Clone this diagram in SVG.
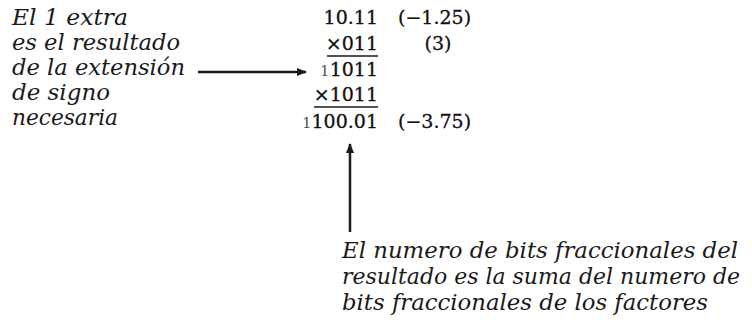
<svg xmlns="http://www.w3.org/2000/svg" width="752" height="331" viewBox="0 0 752 331">
<style>
.note{font-family:"DejaVu Serif Condensed","DejaVu Serif",serif;font-style:italic;font-size:23px;fill:#1a1a1a}
.math{font-family:"DejaVu Serif",serif;font-size:19px;fill:#111;stroke:#111;stroke-width:0.3}
.small1{font-size:15px;fill:#555;stroke:none}
.rule{stroke:#1a1a1a;stroke-width:1.5}
.conn{stroke:#1a1a1a;stroke-width:2.5;fill:none}
</style>
<defs>
<marker id="ah" markerWidth="10" markerHeight="8" refX="9" refY="4" orient="auto" markerUnits="userSpaceOnUse">
<path d="M0,0 L10,4 L0,8 Z" fill="#1a1a1a"/>
</marker>
</defs>
<g id="note-left">
<text class="note" x="12" y="25" textLength="116" lengthAdjust="spacingAndGlyphs">El 1 extra</text>
<text class="note" x="12" y="50" textLength="168" lengthAdjust="spacingAndGlyphs">es el resultado</text>
<text class="note" x="12" y="75" textLength="173" lengthAdjust="spacingAndGlyphs">de la extensión</text>
<text class="note" x="12" y="100" textLength="98" lengthAdjust="spacingAndGlyphs">de signo</text>
<text class="note" x="12" y="125" textLength="106" lengthAdjust="spacingAndGlyphs">necesaria</text>
</g>
<g id="multiplication">
<text class="math" x="378" y="24" text-anchor="end">10.11</text>
<text class="math" x="378" y="50" text-anchor="end">×011</text>
<line class="rule" x1="327" y1="56" x2="378" y2="56"/>
<text class="math" x="378" y="76" text-anchor="end"><tspan class="small1">1</tspan>1011</text>
<text class="math" x="378" y="101" text-anchor="end">×1011</text>
<line class="rule" x1="314" y1="107" x2="378" y2="107"/>
<text class="math" x="378" y="128" text-anchor="end"><tspan class="small1">1</tspan>100.01</text>
<text class="math" x="398" y="24">(−1.25)</text>
<text class="math" x="438" y="50" text-anchor="middle">(3)</text>
<text class="math" x="398" y="128">(−3.75)</text>
</g>
<g id="note-bottom">
<text class="note" x="342" y="258" textLength="396" lengthAdjust="spacingAndGlyphs">El numero de bits fraccionales del</text>
<text class="note" x="342" y="284" textLength="398" lengthAdjust="spacingAndGlyphs">resultado es la suma del numero de</text>
<text class="note" x="342" y="310" textLength="366" lengthAdjust="spacingAndGlyphs">bits fraccionales de los factores</text>
</g>
<g id="connectors">
<line class="conn" x1="198" y1="72" x2="306" y2="72" marker-end="url(#ah)"/>
<line class="conn" x1="350" y1="232" x2="350" y2="144" marker-end="url(#ah)"/>
</g>
</svg>
